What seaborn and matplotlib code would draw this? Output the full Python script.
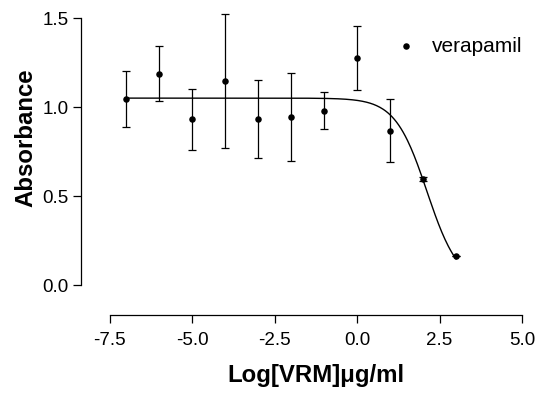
import numpy as np
import pandas as pd
import matplotlib
matplotlib.use("Agg")
import matplotlib.pyplot as plt
import seaborn as sns

log_conc = [-7, -6, -5, -4, -3, -2, -1, 0, 1, 2, 3]
absorbance = [1.045, 1.187, 0.931, 1.146, 0.931, 0.944, 0.979, 1.273, 0.867, 0.596, 0.165]
err = [0.158, 0.156, 0.172, 0.377, 0.219, 0.246, 0.105, 0.180, 0.178, 0.012, 0.0]

# sigmoidal dose-response fit parameters
fit_top = 1.05
fit_bottom = 0.0
fit_logec50 = 2.12
fit_hill = 0.9

sns.set_style("ticks")
plt.rcParams['font.family'] = ['Liberation Sans', 'DejaVu Sans']
plt.rcParams['text.color'] = 'black'
plt.rcParams['axes.labelcolor'] = 'black'
plt.rcParams['xtick.color'] = 'black'
plt.rcParams['ytick.color'] = 'black'
plt.rcParams['axes.edgecolor'] = 'black'

df = pd.DataFrame({'logc': log_conc, 'abs': absorbance, 'err': err})
xfit = np.linspace(min(log_conc), max(log_conc), 300)
yfit = fit_bottom + (fit_top - fit_bottom) / (1 + 10 ** ((xfit - fit_logec50) * fit_hill))
fit = pd.DataFrame({'logc': xfit, 'abs': yfit})

fig = plt.figure(figsize=(5.39, 3.93), dpi=100)
ax = fig.add_axes([0.150, 0.2748, 0.8184, 0.702])

sns.lineplot(data=fit, x='logc', y='abs', color='black', lw=1.0, ax=ax)
ax.errorbar(df['logc'], df['abs'], yerr=df['err'], fmt='none', ecolor='black',
            elinewidth=0.9, capsize=3, capthick=0.9, clip_on=False)
sns.scatterplot(data=df, x='logc', y='abs', color='black', s=22, edgecolor='black',
                linewidth=0, ax=ax, label='verapamil', clip_on=False, zorder=5)

ax.set_xlim(-8.38, 5.0)
ax.set_ylim(0, 1.55)
ax.set_xticks([-7.5, -5.0, -2.5, 0.0, 2.5, 5.0])
ax.set_yticks([0.0, 0.5, 1.0, 1.5])
ax.set_xticklabels(['-7.5', '-5.0', '-2.5', '0.0', '2.5', '5.0'])
ax.set_yticklabels(['0.0', '0.5', '1.0', '1.5'])

sns.despine(ax=ax)
ax.spines['bottom'].set_position(('outward', 21.6))
ax.spines['bottom'].set_bounds(-7.5, 5.0)
ax.spines['left'].set_bounds(0, 1.5)
for s in ['left', 'bottom']:
    ax.spines[s].set_linewidth(0.9)
ax.tick_params(axis='both', direction='out', length=6, width=0.9, labelsize=13.5, pad=3)
ax.tick_params(axis='x', pad=6)

ax.set_xlabel('Log[VRM]\u03bcg/ml', fontsize=17.3, fontweight='bold')
ax.set_ylabel('Absorbance', fontsize=17.3, fontweight='bold')
ax.xaxis.set_label_coords(0.533, -0.285)
ax.yaxis.set_label_coords(-0.0975, 0.535)

ax.legend(loc='upper right', frameon=False, fontsize=15, handletextpad=0.25,
          borderaxespad=0.0, bbox_to_anchor=(1.02, 0.93), markerscale=1.0)

fig.savefig('out.png', dpi=100)
